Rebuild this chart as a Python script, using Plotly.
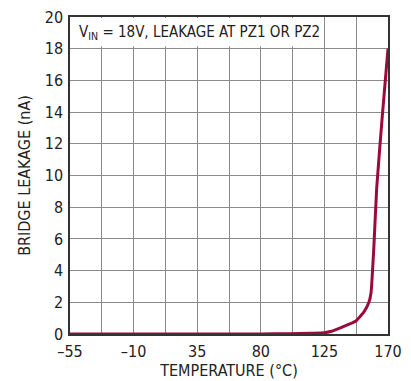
import plotly.graph_objects as go

temperature_c = [-55, 0, 50, 80, 100, 115, 125, 130, 138, 147, 153, 156.5, 158, 160, 162, 166, 170]
leakage_na = [0, 0, 0, 0, 0.02, 0.05, 0.08, 0.17, 0.45, 0.8, 1.4, 2.0, 2.6, 5.5, 9.2, 13.8, 18]

x_ticks = [-55, -10, 35, 80, 125, 170]
x_labels = ["–55", "–10", "35", "80", "125", "170"]
x_minor = [-32.5, 12.5, 57.5, 102.5, 147.5]
y_ticks = list(range(0, 21, 2))

FONT = "DejaVu Sans Condensed, Liberation Sans Narrow, sans-serif"
LINE_COLOR = "#9c0a3b"
TXT = "#222"

fig = go.Figure()
fig.add_trace(go.Scatter(x=temperature_c, y=leakage_na, mode="lines",
                         line=dict(color=LINE_COLOR, width=3, shape="spline", smoothing=0.4),
                         showlegend=False, cliponaxis=False))

fig.add_shape(type="rect", xref="x", yref="y", x0=-54.7, x1=123.5, y0=18.15, y1=19.93,
              fillcolor="white", line=dict(width=0), layer="above")
fig.add_annotation(x=-55, y=19.05, xref="x", yref="y", xanchor="left", yanchor="middle",
                   xshift=7, showarrow=False,
                   text="V<sub>IN</sub> = 18V, LEAKAGE AT PZ1 OR PZ2",
                   font=dict(family=FONT, size=15, color=TXT))

fig.update_xaxes(range=[-55, 170], tickvals=x_ticks, ticktext=x_labels,
                 showgrid=True, gridcolor="#8a8a8a", gridwidth=1,
                 minor=dict(tickvals=x_minor, showgrid=True, gridcolor="#8a8a8a", gridwidth=1, ticks=""),
                 showline=True, linecolor="#333", linewidth=1.5, mirror=True,
                 ticks="", zeroline=False, ticklabelstandoff=2, automargin=False,
                 title=dict(text="TEMPERATURE (°C)", standoff=5,
                            font=dict(family=FONT, size=16, color=TXT)),
                 tickfont=dict(family=FONT, size=16, color=TXT))
fig.update_yaxes(range=[0, 20], tickvals=y_ticks,
                 showgrid=True, gridcolor="#8a8a8a", gridwidth=1,
                 showline=True, linecolor="#333", linewidth=1.5, mirror=True,
                 ticks="", zeroline=False, ticklabelstandoff=2, automargin=False,
                 title=dict(text="BRIDGE LEAKAGE (nA)", standoff=10,
                            font=dict(family=FONT, size=16, color=TXT)),
                 tickfont=dict(family=FONT, size=16, color=TXT))

fig.update_layout(width=411, height=381,
                  margin=dict(l=70, r=23, t=17, b=47),
                  paper_bgcolor="white", plot_bgcolor="white")

fig.write_html("out.html")
